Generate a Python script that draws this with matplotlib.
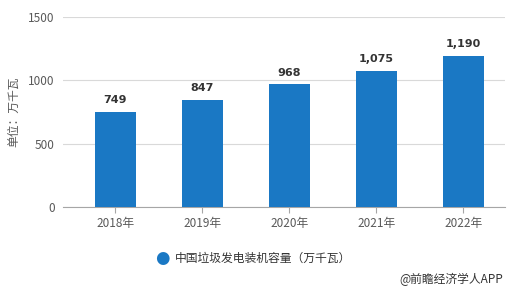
import matplotlib
matplotlib.use('Agg')
import matplotlib.pyplot as plt

plt.rcParams['font.family'] = ['Noto Sans CJK SC', 'DejaVu Sans']

# data
years = ['2018年', '2019年', '2020年', '2021年', '2022年']
capacity = [749, 847, 968, 1075, 1190]
y_ticks = [0, 500, 1000, 1500]

bar_color = '#1A78C4'
grid_color = '#D9D9D9'
text_color = '#595959'

fig = plt.figure(figsize=(5.09, 2.91), dpi=100)
ax = fig.add_axes([63 / 509, 1 - 207 / 291, (505 - 63) / 509, (207 - 17) / 291])

x = list(range(len(years)))
ax.bar(x, capacity, width=0.47, color=bar_color, zorder=3)

# value labels above bars
for xi, v in zip(x, capacity):
    ax.text(xi, v + 70, f'{v:,}', ha='center', va='baseline',
            fontsize=8, fontweight='bold', color='#333333',
            family=['DejaVu Sans'])

ax.set_xlim(-0.6, 4.48)
ax.set_ylim(0, 1500)
ax.set_yticks(y_ticks)
ax.set_xticks(x)
ax.set_xticklabels(years)
ax.yaxis.grid(True, color=grid_color, linewidth=0.8, zorder=0)

for s in ['top', 'right', 'left']:
    ax.spines[s].set_visible(False)
ax.spines['bottom'].set_color('#A6A6A6')
ax.spines['bottom'].set_linewidth(0.8)

ax.tick_params(axis='y', length=0, pad=6, labelsize=8.5, labelcolor=text_color)
ax.tick_params(axis='x', length=4, width=0.8, color='#A6A6A6', pad=3,
               labelsize=8.5, labelcolor=text_color)

ax.set_ylabel('单位：万千瓦', fontsize=8.5, color=text_color, labelpad=6)

# legend
fig.text(162 / 509, 1 - 258 / 291, '●', color=bar_color, fontsize=12,
         ha='center', va='center', family=['DejaVu Sans'])
fig.text(175 / 509, 1 - 258 / 291, '中国垃圾发电装机容量（万千瓦）',
         color='#333333', fontsize=8.5, ha='left', va='center')

# source
fig.text(503 / 509, 1 - 279 / 291, '@前瞻经济学人APP', color='#333333',
         fontsize=8.5, ha='right', va='center')

fig.savefig('out.png', dpi=100)
